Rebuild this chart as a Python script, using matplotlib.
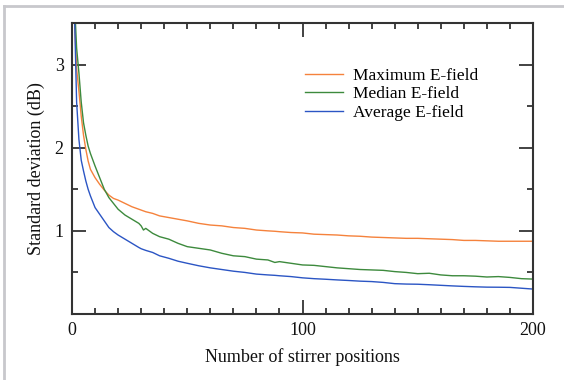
import matplotlib
matplotlib.use("Agg")
import matplotlib.pyplot as plt
from matplotlib.ticker import MultipleLocator
from matplotlib.lines import Line2D

plt.rcParams['font.family'] = ['Liberation Serif', 'DejaVu Serif']
plt.rcParams['mathtext.fontset'] = 'stix'

# Number of stirrer positions
positions = [1, 2, 3, 4, 5, 6, 7, 8, 10, 12, 14, 16, 18, 20, 23, 26, 29, 30, 31, 32,
             35, 38, 42, 46, 50, 55, 60, 65, 70, 75, 80, 85, 88, 90, 95, 100, 105,
             110, 115, 120, 125, 130, 135, 140, 145, 150, 155, 160, 165, 170, 175,
             180, 185, 190, 195, 200]

# Standard deviation (dB) of each E-field statistic
std_max = [3.60, 2.95, 2.68, 2.38, 2.15, 1.98, 1.84, 1.74, 1.64, 1.56, 1.49, 1.43,
           1.39, 1.37, 1.33, 1.29, 1.26, 1.25, 1.24, 1.23, 1.21, 1.18, 1.16, 1.14,
           1.12, 1.09, 1.07, 1.06, 1.04, 1.03, 1.01, 1.00, 0.995, 0.99, 0.98, 0.975,
           0.96, 0.955, 0.95, 0.94, 0.935, 0.925, 0.92, 0.915, 0.91, 0.91, 0.905,
           0.90, 0.895, 0.885, 0.885, 0.88, 0.875, 0.875, 0.875, 0.875]
std_median = [3.80, 3.20, 2.90, 2.55, 2.30, 2.15, 2.02, 1.93, 1.78, 1.64, 1.50, 1.40,
              1.33, 1.26, 1.19, 1.14, 1.09, 1.06, 1.01, 1.03, 0.97, 0.93, 0.90, 0.85,
              0.81, 0.79, 0.77, 0.73, 0.70, 0.69, 0.66, 0.65, 0.62, 0.63, 0.61, 0.59,
              0.585, 0.57, 0.555, 0.545, 0.535, 0.53, 0.525, 0.51, 0.50, 0.485, 0.49,
              0.47, 0.46, 0.46, 0.455, 0.445, 0.45, 0.44, 0.425, 0.42]
std_average = [3.70, 2.55, 2.10, 1.85, 1.72, 1.60, 1.50, 1.42, 1.28, 1.20, 1.12, 1.04,
               0.99, 0.95, 0.90, 0.85, 0.80, 0.785, 0.775, 0.765, 0.74, 0.70, 0.67,
               0.635, 0.61, 0.58, 0.555, 0.535, 0.515, 0.50, 0.48, 0.47, 0.465, 0.46,
               0.45, 0.435, 0.425, 0.418, 0.41, 0.403, 0.395, 0.39, 0.38, 0.365, 0.36,
               0.358, 0.352, 0.345, 0.338, 0.332, 0.327, 0.323, 0.322, 0.32, 0.31, 0.30]

series_labels = ["Maximum E-field", "Median E-field", "Average E-field"]
colors = ["#f5823c", "#3d8a3d", "#2b55c4"]

fig = plt.figure(figsize=(5.64, 3.80), dpi=100)
ax = fig.add_axes([72 / 564, 1 - 314 / 380, (533 - 72) / 564, (314 - 23) / 380])

for ys, lab, c in zip([std_max, std_median, std_average], series_labels, colors):
    ax.plot(positions, ys, color=c, lw=1.0, label=lab)

ax.set_xlim(0, 200)
ax.set_ylim(0, 3.5)
ax.xaxis.set_major_locator(MultipleLocator(100))
ax.xaxis.set_minor_locator(MultipleLocator(10))
ax.yaxis.set_minor_locator(MultipleLocator(0.5))
ax.set_yticks([1, 2, 3])
ax.tick_params(which='both', direction='in', top=True, right=True,
               color='#222222', width=1.2, labelsize=13, colors='#111111')
ax.tick_params(which='major', length=10, pad=6)
ax.tick_params(which='minor', length=4)
for s in ax.spines.values():
    s.set_color('#333333')
    s.set_linewidth(1.5)

ax.set_xlabel("Number of stirrer positions", fontsize=13, labelpad=6, color='#111111')
ax.set_ylabel("Standard deviation (dB)", fontsize=13, labelpad=7, color='#111111')

ax.legend(loc='upper left', bbox_to_anchor=(0.49, 0.87), frameon=False,
          fontsize=12.5, handlelength=2.2, handletextpad=0.6, labelspacing=0.13,
          borderaxespad=0)

# thin grey frame along the top and left edges of the figure
fig.add_artist(Line2D([4 / 564, 4 / 564], [0, 1 - 6 / 380], transform=fig.transFigure,
                      color='#c8c8cc', lw=2))
fig.add_artist(Line2D([4 / 564, 1], [1 - 6 / 380, 1 - 6 / 380], transform=fig.transFigure,
                      color='#c8c8cc', lw=2))

fig.savefig("out.png", dpi=100)
